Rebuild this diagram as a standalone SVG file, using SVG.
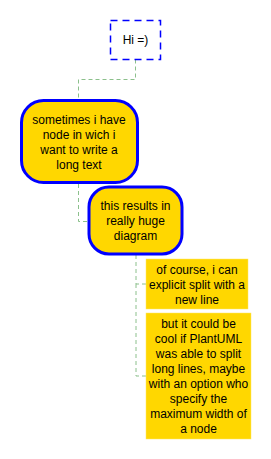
<svg xmlns="http://www.w3.org/2000/svg" width="271" height="459" viewBox="0 0 271 459">
<style>
text{font-family:"Liberation Sans",Arial,sans-serif;font-size:12px;fill:#000;text-anchor:middle}
.link{fill:none;stroke:#8CC08C;stroke-width:1;stroke-dasharray:4,3}
.round{fill:#FFD700;stroke:#0000FF;stroke-width:3}
.box{fill:#FFD700;stroke:#FFE566;stroke-width:0.5}
</style>
<rect width="271" height="459" fill="#fff"/>
<g id="connectors">
<path class="link" d="M135.5,59.5 V79.5 H78.5 V99"/>
<path class="link" d="M78.5,184 V221.5 H88"/>
<path class="link" d="M136,255 V284 H146 M136,284 V376 H146"/>
</g>
<g id="node-hi">
<rect x="110.5" y="20.5" width="50" height="39" fill="#fff" stroke="#0000FF" stroke-width="1.5" stroke-dasharray="7,5"/>
<text x="135.5" y="44">Hi =)</text>
</g>
<g id="node-sometimes">
<rect class="round" x="21.5" y="100.5" width="116" height="82" rx="22"/>
<text x="79" y="123.5">sometimes i have</text>
<text x="79" y="138.5">node in wich i</text>
<text x="79" y="153.5">want to write a</text>
<text x="79" y="168.5">long text</text>
</g>
<g id="node-results">
<rect class="round" x="89" y="187" width="93" height="67" rx="20"/>
<text x="135.5" y="210">this results in</text>
<text x="135.5" y="225">really huge</text>
<text x="135.5" y="240">diagram</text>
</g>
<g id="node-course">
<rect class="box" x="146" y="259" width="102" height="50"/>
<text x="197" y="273.5">of course, i can</text>
<text x="197" y="288.5">explicit split with a</text>
<text x="197" y="303.5">new line</text>
</g>
<g id="node-cool">
<rect class="box" x="146" y="313" width="105" height="126"/>
<text x="198.5" y="327.5">but it could be</text>
<text x="198.5" y="342.5">cool if PlantUML</text>
<text x="198.5" y="357.5">was able to split</text>
<text x="198.5" y="372.5">long lines, maybe</text>
<text x="198.5" y="387.5">with an option who</text>
<text x="198.5" y="402.5">specify the</text>
<text x="198.5" y="417.5">maximum width of</text>
<text x="198.5" y="432.5">a node</text>
</g>
</svg>
